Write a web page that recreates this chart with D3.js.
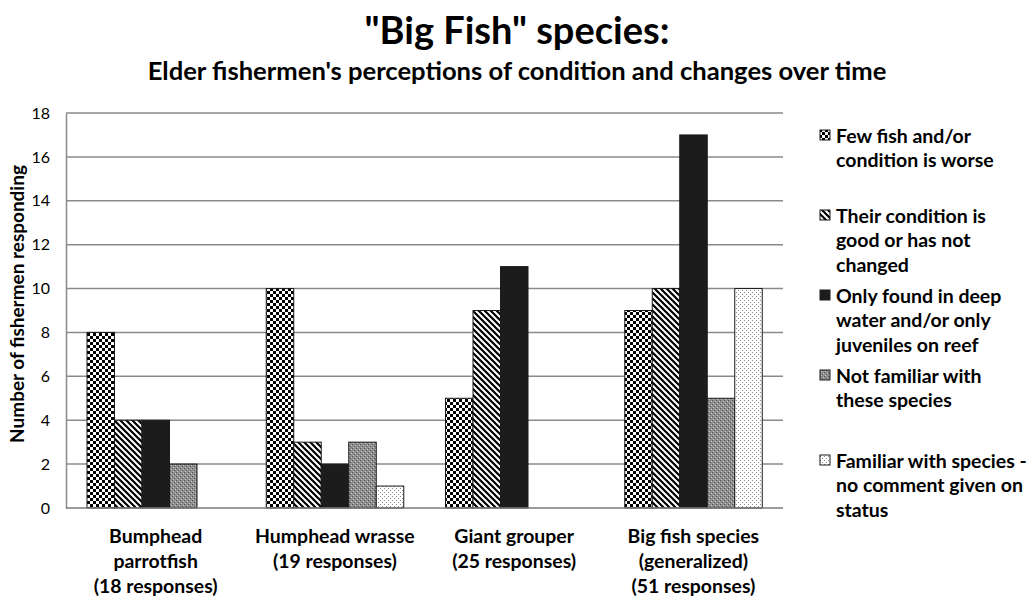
<!DOCTYPE html>
<html><head><meta charset="utf-8">
<script src="https://cdn.jsdelivr.net/npm/d3@7"></script>
<style>body{margin:0;background:#fff}svg{display:block}text{font-family:Lato,"Open Sans",sans-serif;fill:#000}</style>
</head><body>
<script>
// ---- data ----
const categories = [["Bumphead","parrotfish","(18 responses)"],["Humphead wrasse","(19 responses)"],["Giant grouper","(25 responses)"],["Big fish species","(generalized)","(51 responses)"]];
const seriesNames = [["Few fish and/or","condition is worse"],["Their condition is","good or has not","changed"],["Only found in deep","water and/or only","juveniles on reef"],["Not familiar with","these species"],["Familiar with species -","no comment given on","status"]];
const fewFish = [8,10,5,9];
const goodCondition = [4,3,9,10];
const deepOnly = [4,2,11,17];
const notFamiliar = [2,3,0,5];
const noComment = [0,1,0,10];
const yTicks = [0,2,4,6,8,10,12,14,16,18];
const titleText = '"Big Fish" species:';
const subtitleText = "Elder fishermen's perceptions of condition and changes over time";
const yAxisTitle = "Number of fishermen responding";

const series = [fewFish, goodCondition, deepOnly, notFamiliar, noComment];
const patternIds = ["pChecker","pDiag","pSolid","pGray","pDots"];

const W = 1034, H = 598;
const svg = d3.select("body").append("svg").attr("width", W).attr("height", H);
const defs = svg.append("defs");

// patterns
function pat(id, w, h){ return defs.append("pattern").attr("id", id).attr("patternUnits","userSpaceOnUse").attr("width", w).attr("height", h); }
let p = pat("pChecker", 6, 6);
p.append("rect").attr("width",6).attr("height",6).attr("fill","#fff");
p.append("rect").attr("width",3).attr("height",3).attr("fill","#000");
p.append("rect").attr("x",3).attr("y",3).attr("width",3).attr("height",3).attr("fill","#000");
p = pat("pDiag", 6, 6);
p.append("rect").attr("width",6).attr("height",6).attr("fill","#fff");
p.append("path").attr("d","M-1,-1L7,7M-1,5L1,7M5,-1L7,1").attr("stroke","#000").attr("stroke-width",2.2);
p = pat("pSolid", 4, 4);
p.append("rect").attr("width",4).attr("height",4).attr("fill","#1c1c1c");
p = pat("pGray", 4, 4);
p.append("rect").attr("width",4).attr("height",4).attr("fill","#8e8e8e");
[[0,0,"#555"],[2,2,"#555"],[1,3,"#c8c8c8"],[3,1,"#c8c8c8"]].forEach(d=>p.append("rect").attr("x",d[0]).attr("y",d[1]).attr("width",1).attr("height",1).attr("fill",d[2]));
p = pat("pDots", 4, 4);
p.append("rect").attr("width",4).attr("height",4).attr("fill","#fff");
[[0,0],[2,2]].forEach(d=>p.append("rect").attr("x",d[0]).attr("y",d[1]).attr("width",1).attr("height",1).attr("fill","#8a8a8a"));

// scales
const plotL = 66, plotR = 783, plotT = 113, plotB = 508;
const x0 = d3.scaleBand().domain(d3.range(categories.length)).range([plotL, plotR]);
const x1 = d3.scaleBand().domain(d3.range(series.length)).range([21, 21 + 5*27.5]);
const y = d3.scaleLinear().domain([0, 18]).range([plotB, plotT]);

function fit(sel, target){
  const w = sel.node().getComputedTextLength();
  const fs = parseFloat(sel.attr("font-size"));
  const nf = fs * target / w;
  sel.attr("font-size", nf);
  return nf;
}

// gridlines
svg.append("g").selectAll("line").data(yTicks.filter(t=>t>0)).join("line")
  .attr("x1", plotL).attr("x2", plotR).attr("y1", d=>y(d)).attr("y2", d=>y(d))
  .attr("stroke","#8a8a8a").attr("stroke-width",1.5);

// y axis
const yAxis = svg.append("g").attr("transform",`translate(${plotL},0)`)
  .call(d3.axisLeft(y).tickValues(yTicks).tickSize(0).tickPadding(16));
yAxis.select(".domain").attr("stroke","#8a8a8a").attr("stroke-width",1.5);
yAxis.selectAll("text").attr("font-size",16).attr("font-family","Lato,'Open Sans',sans-serif").attr("fill","#000");

// bars
const groups = svg.append("g").selectAll("g").data(series).join("g")
  .attr("fill",(d,i)=>`url(#${patternIds[i]})`);
groups.each(function(vals, si){
  d3.select(this).selectAll("rect").data(vals.map((v,ci)=>({v,ci})).filter(d=>d.v>0)).join("rect")
    .attr("x", d=>x0(d.ci) + x1(si))
    .attr("width", x1.bandwidth())
    .attr("y", d=>y(d.v))
    .attr("height", d=>y(0)-y(d.v))
    .attr("stroke","#1a1a1a").attr("stroke-width",1);
});

// x axis line
svg.append("line").attr("x1",plotL).attr("x2",plotR).attr("y1",plotB).attr("y2",plotB)
  .attr("stroke","#7a7a7a").attr("stroke-width",1.5);

// x labels
const xl = svg.append("g");
const probe = xl.append("text").attr("font-size",16).attr("font-weight","bold").text(categories[0][2]);
const xfs = fit(probe, 124); probe.remove();
categories.forEach((lines, ci)=>{
  lines.forEach((ln, li)=>{
    xl.append("text").attr("x", x0(ci) + x0.bandwidth()/2).attr("y", 535 + li*25)
      .attr("text-anchor","middle").attr("dominant-baseline","central")
      .attr("font-size", xfs).attr("font-weight","bold").text(ln);
  });
});

// titles
const t1 = svg.append("text").attr("x", 517).attr("y", 44).attr("text-anchor","middle")
  .attr("font-size",32).attr("font-weight","bold").text(titleText);
fit(t1, 305);
const t2 = svg.append("text").attr("x", 517).attr("y", 80).attr("text-anchor","middle")
  .attr("font-size",20).attr("font-weight","bold").text(subtitleText);
fit(t2, 739);

// y axis title
const yt = svg.append("text").attr("transform","translate(24,304) rotate(-90)").attr("text-anchor","middle")
  .attr("font-size",17).attr("font-weight","bold").text(yAxisTitle);
fit(yt, 278);

// legend
const lg = svg.append("g");
const lprobe = lg.append("text").attr("font-size",16).attr("font-weight","bold").text(seriesNames[4][0]);
const lfs = fit(lprobe, 191); lprobe.remove();
const legendStarts = [135, 215, 295, 375, 460];
seriesNames.forEach((lines, si)=>{
  const y0 = legendStarts[si];
  lg.append("rect").attr("x", 820).attr("y", y0-5).attr("width", 10).attr("height", 10)
    .attr("fill", `url(#${patternIds[si]})`).attr("stroke","#1a1a1a").attr("stroke-width",1);
  lines.forEach((ln, li)=>{
    lg.append("text").attr("x", 836).attr("y", y0 + li*24.5).attr("dominant-baseline","central")
      .attr("font-size", lfs).attr("font-weight","bold").text(ln);
  });
});
</script>
</body></html>
